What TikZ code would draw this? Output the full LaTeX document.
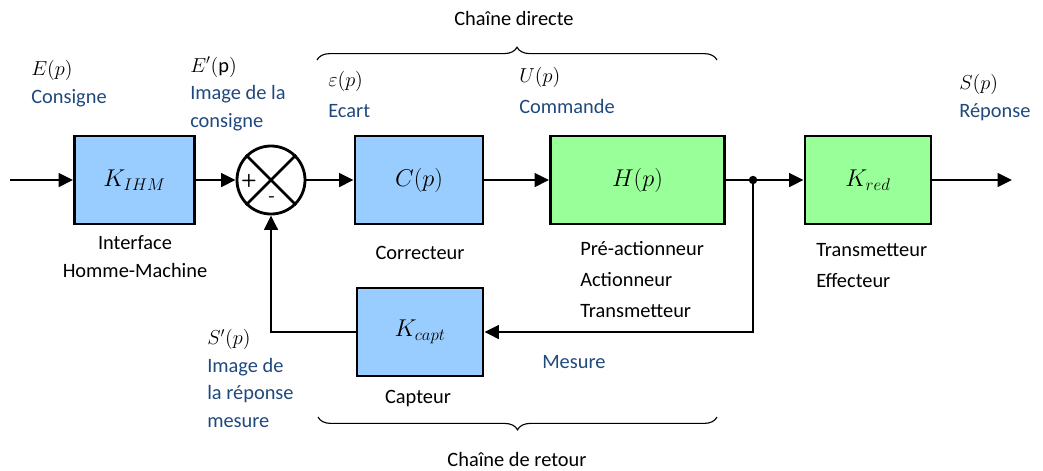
\documentclass[tikz,border=0pt]{standalone}
\usepackage{fontspec}
\setmainfont{Carlito}
\usepackage{xcolor}
\usetikzlibrary{arrows.meta,decorations.pathreplacing}

\definecolor{bleuboite}{RGB}{153,204,255}
\definecolor{vertboite}{RGB}{153,255,153}
\definecolor{bleutexte}{RGB}{31,73,125}

\begin{document}
\begin{tikzpicture}[x=0.025cm, y=-0.025cm, line width=1.8pt,
  bloc/.style={draw, line width=2pt, minimum height=2.2cm, font=\fontsize{18}{22}\selectfont},
  bleu/.style={bloc, fill=bleuboite},
  vert/.style={bloc, fill=vertboite},
  arr/.style={-{Triangle[length=3.6mm, width=3.4mm]}},
  lab/.style={inner sep=0pt, align=left, anchor=base west, font=\fontsize{14.5}{19.5}\selectfont},
  nom/.style={lab, align=center, anchor=base},
  accolade/.style={decorate, decoration={brace, amplitude=0.32cm}, line width=0.8pt}
]
\useasboundingbox (0,0) rectangle (1043,470);

% blocs
\node[bleu, minimum width=3.0cm]  (ihm)  at (134.5,180) {$K_{IHM}$};
\node[draw, circle, line width=2pt, minimum size=1.7cm] (sum) at (271,180) {};
\node[bleu, minimum width=3.2cm]  (corr) at (419,180) {$C(p)$};
\node[vert, minimum width=4.35cm] (proc) at (637.5,180) {$H(p)$};
\node[vert, minimum width=3.15cm] (red)  at (868,180) {$K_{red}$};
\node[bleu, minimum width=3.15cm] (capt) at (420,332) {$K_{capt}$};

\coordinate (entree) at (10,180);
\coordinate (sortie) at (1012,180);
\coordinate (noeud) at (753,180);

% comparateur
\draw (sum.north west) -- (sum.south east);
\draw (sum.north east) -- (sum.south west);
\node[font=\sffamily\bfseries\fontsize{13}{13}\selectfont] (plus) at (249,181) {+};
\node[font=\sffamily\bfseries\fontsize{13}{13}\selectfont] (moins) at (272,199) {-};

% liaisons
\draw[arr] (entree) -- (ihm);
\draw[arr] (ihm) -- (sum);
\draw[arr] (sum) -- (corr);
\draw[arr] (corr) -- (proc);
\draw (proc) -- (noeud);
\draw[arr] (noeud) -- (red);
\draw[arr] (red) -- (sortie);
\fill (noeud) circle (3pt);
\draw[arr] (noeud) |- (capt);
\draw[arr] (capt) -| (sum);

% grandeurs (ancre sur la derniere ligne)
\node[lab] (consigne) at (30,103) {$E(p)$\\\color{bleutexte}Consigne};
\node[lab] (imcons) at (189,127) {$E'(\mathrm{p})$\\\color{bleutexte}Image de la\\\color{bleutexte}consigne};
\node[lab] (ecart) at (327,117) {$\varepsilon(p)$\\[2pt]\color{bleutexte}Ecart};
\node[lab] (commande) at (518,113) {$U(p)$\\[2pt]\color{bleutexte}Commande};
\node[lab] (reponse) at (958,117) {$S(p)$\\\color{bleutexte}Réponse};
\node[lab] (imrep) at (206,427) {$S'(p)$\\\color{bleutexte}Image de\\\color{bleutexte}la réponse\\\color{bleutexte}mesure};
\node[lab, text=bleutexte] (mes) at (541,368) {Mesure};

% composants
\node[nom] (ihmtxt) at (135,277) {Interface\\Homme-Machine};
\node[nom] (corrtxt) at (420,259) {Correcteur};
\node[lab, font=\fontsize{14.5}{22}\selectfont] (proctxt) at (579,317) {Pré-actionneur\\Actionneur\\Transmetteur};
\node[lab, font=\fontsize{14.5}{22}\selectfont] (redtxt) at (815,287) {Transmetteur\\Effecteur};
\node[nom] (capttxt) at (418,403) {Capteur};

% chaines
\draw[accolade] (317,60) -- (717,60);
\node[nom] (directe) at (514,25) {Chaîne directe};
\draw[accolade] (717,417) -- (318,417);
\node[nom] (retour) at (517,466) {Chaîne de retour};
\end{tikzpicture}
\end{document}
